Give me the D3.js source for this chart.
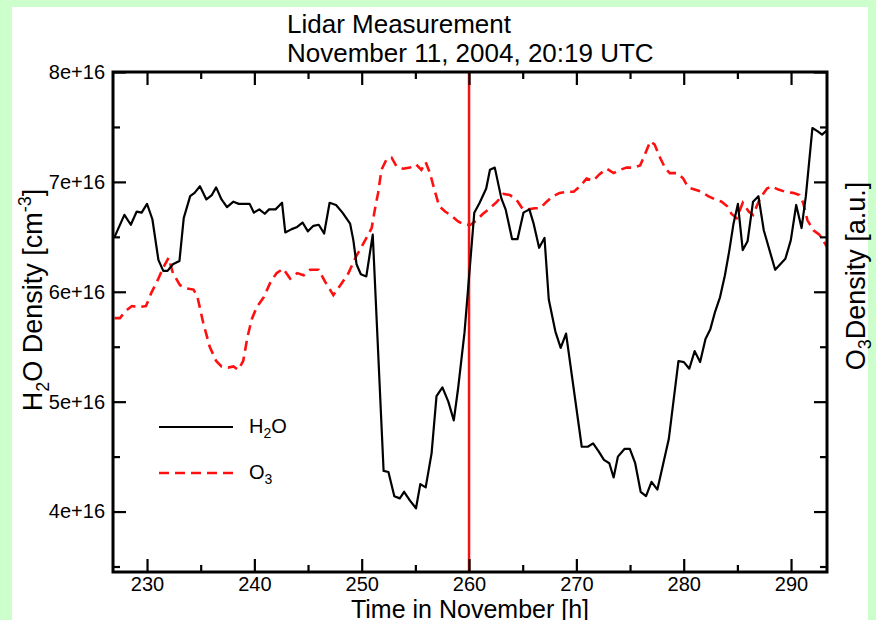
<!DOCTYPE html>
<html lang="en">
<head>
    <meta charset="UTF-8">
    <title>Lidar Measurement</title>
    <script src="https://d3js.org/d3.v7.min.js"></script>
    <style>
        body {
            margin: 0;
            background: #ccffcc;
        }
        svg text {
            font-family: "Liberation Sans", Arial, Helvetica, sans-serif;
            fill: #000;
        }
    </style>
</head>
<body>
    <div id="chart"></div>

    <script>
        // time in November [h]
        const h2oHours = [226.98, 227.89, 228.49, 229.04, 229.5, 230.0, 230.5, 231.06, 231.51, 231.91,
            232.41, 233.02, 233.42, 234.02, 234.43, 234.93, 235.53, 236.04, 236.44, 236.94,
            237.45, 238.05, 238.55, 239.56, 239.96, 240.46, 240.97, 241.37, 241.97, 242.58,
            242.88, 243.48, 243.99, 244.49, 244.99, 245.5, 246.0, 246.5, 247.01, 247.61,
            248.21, 248.92, 249.22, 249.52, 249.92, 250.43, 251.03, 252.04, 252.49, 253.04,
            253.55, 253.95, 254.5, 255.06, 255.46, 255.96, 256.51, 256.97, 257.52, 258.07,
            258.58, 258.98, 259.58, 260.49, 260.99, 261.6, 261.95, 262.4, 263.01, 263.41,
            264.01, 264.52, 265.07, 265.62, 266.02, 266.53, 267.03, 267.43, 268.04, 268.54,
            269.04, 270.5, 271.06, 271.56, 272.06, 272.57, 273.07, 273.47, 273.87, 274.48,
            274.98, 275.48, 275.99, 276.49, 277.0, 277.55, 278.61, 279.51, 280.02, 280.52,
            281.02, 281.53, 282.03, 282.48, 282.93, 283.38, 283.84, 284.24, 284.64, 285.05,
            285.5, 285.95, 286.46, 286.96, 287.46, 288.52, 289.47, 289.98, 290.48, 290.98,
            291.38, 291.99, 292.49, 292.89, 293.35];
        // H2O density in units of 1e16 cm^-3
        const h2oDensity = [6.50, 6.70, 6.61, 6.73, 6.72, 6.80, 6.66, 6.29, 6.19, 6.19,
            6.25, 6.28, 6.67, 6.87, 6.90, 6.96, 6.84, 6.88, 6.95, 6.84,
            6.77, 6.82, 6.80, 6.80, 6.72, 6.75, 6.71, 6.75, 6.75, 6.81,
            6.54, 6.57, 6.59, 6.63, 6.55, 6.60, 6.61, 6.53, 6.81, 6.79,
            6.72, 6.62, 6.47, 6.25, 6.16, 6.14, 6.52, 4.37, 4.36, 4.14,
            4.12, 4.18, 4.10, 4.03, 4.25, 4.22, 4.53, 5.05, 5.13, 5.00,
            4.83, 5.12, 5.63, 6.72, 6.81, 6.94, 7.11, 7.13, 6.85, 6.75,
            6.48, 6.48, 6.72, 6.75, 6.62, 6.40, 6.49, 5.93, 5.64, 5.49,
            5.62, 4.59, 4.59, 4.62, 4.55, 4.47, 4.44, 4.31, 4.50, 4.57,
            4.57, 4.44, 4.18, 4.14, 4.27, 4.20, 4.66, 5.37, 5.36, 5.30,
            5.46, 5.36, 5.57, 5.66, 5.82, 5.95, 6.15, 6.37, 6.62, 6.80,
            6.38, 6.46, 6.82, 6.87, 6.56, 6.20, 6.30, 6.47, 6.79, 6.58,
            6.87, 7.49, 7.46, 7.43, 7.47];

        const o3Hours = [226.98, 227.48, 227.95, 228.59, 229.2, 229.9, 230.4, 231.06, 231.51, 232.01,
            232.41, 233.07, 233.72, 234.33, 234.68, 235.23, 235.84, 236.44, 236.94, 237.55,
            238.05, 238.5, 238.96, 239.36, 239.76, 240.21, 240.87, 241.47, 242.07, 242.68,
            243.33, 243.99, 244.59, 245.19, 246.0, 246.6, 247.36, 248.01, 248.77, 249.42,
            250.33, 250.93, 251.23, 251.53, 251.84, 252.34, 252.79, 253.25, 253.85, 254.5,
            255.06, 255.56, 255.96, 256.36, 256.77, 257.22, 257.77, 258.38, 258.98, 259.58,
            260.14, 260.69, 261.3, 261.95, 262.61, 263.21, 263.81, 264.41, 265.02, 265.52,
            266.12, 266.63, 267.23, 267.84, 268.44, 269.09, 269.75, 270.35, 270.95, 271.56,
            272.16, 272.82, 273.47, 274.07, 274.68, 275.28, 275.94, 276.39, 276.89, 277.29,
            277.8, 278.3, 278.7, 279.41, 279.96, 280.41, 281.02, 281.67, 282.28, 282.93,
            283.53, 284.03, 284.44, 284.94, 285.5, 286.05, 286.46, 287.11, 287.76, 288.16,
            288.82, 289.47, 290.18, 290.78, 291.13, 291.53, 292.09, 292.64, 293.35];
        // O3 density [a.u.]
        const o3Density = [5.76, 5.76, 5.82, 5.87, 5.86, 5.87, 5.99, 6.12, 6.22, 6.31,
            6.17, 6.06, 6.03, 6.02, 5.96, 5.72, 5.50, 5.37, 5.32, 5.31,
            5.32, 5.29, 5.37, 5.59, 5.75, 5.86, 5.95, 6.08, 6.17, 6.21,
            6.12, 6.17, 6.15, 6.20, 6.20, 6.09, 5.97, 6.06, 6.17, 6.31,
            6.47, 6.58, 6.75, 6.90, 7.11, 7.21, 7.22, 7.14, 7.12, 7.13,
            7.16, 7.11, 7.18, 7.08, 6.93, 6.78, 6.73, 6.69, 6.64, 6.61,
            6.61, 6.65, 6.71, 6.76, 6.82, 6.89, 6.88, 6.84, 6.75, 6.75,
            6.76, 6.76, 6.82, 6.87, 6.90, 6.91, 6.91, 6.96, 7.03, 7.01,
            7.07, 7.12, 7.08, 7.11, 7.13, 7.13, 7.15, 7.25, 7.37, 7.34,
            7.22, 7.12, 7.08, 7.08, 7.03, 6.95, 6.93, 6.91, 6.87, 6.84,
            6.82, 6.78, 6.71, 6.67, 6.81, 6.73, 6.70, 6.85, 6.94, 6.96,
            6.93, 6.91, 6.90, 6.88, 6.81, 6.65, 6.56, 6.52, 6.41];

        const xTicks = [230, 240, 250, 260, 270, 280, 290];
        const xMinorTicks = [235, 245, 255, 265, 275, 285];
        const yTicks = [4, 5, 6, 7, 8];
        const yMinorTicks = [3.5, 4.5, 5.5, 6.5, 7.5];
        const markerHour = 260;

        const width = 876, height = 620;
        const plotLeft = 113, plotRight = 827, plotTop = 72, plotBottom = 572;

        const svg = d3.select("#chart").append("svg")
            .attr("width", width)
            .attr("height", height)
            .style("display", "block");

        svg.append("rect").attr("width", width).attr("height", height).attr("fill", "#ccffcc");
        svg.append("rect").attr("x", 12).attr("y", 7).attr("width", 856).attr("height", height - 7)
            .attr("fill", "#fff");

        const x = d3.scaleLinear().domain([226.83, 293.35]).range([plotLeft, plotRight]);
        const y = d3.scaleLinear().domain([3.45, 8.0]).range([plotBottom, plotTop]);
        const yO3 = d3.scaleLinear().domain([3.45, 8.0]).range([plotBottom, plotTop]);

        svg.append("clipPath").attr("id", "plot-clip")
            .append("rect").attr("x", plotLeft).attr("y", plotTop)
            .attr("width", plotRight - plotLeft).attr("height", plotBottom - plotTop);

        const plot = svg.append("g").attr("clip-path", "url(#plot-clip)");

        // vertical marker
        plot.append("line")
            .attr("x1", x(markerHour)).attr("x2", x(markerHour))
            .attr("y1", plotTop).attr("y2", plotBottom)
            .attr("stroke", "#f01414").attr("stroke-width", 2.5);

        const h2oLine = d3.line().x((d, i) => x(h2oHours[i])).y(d => y(d));
        const o3Line = d3.line().x((d, i) => x(o3Hours[i])).y(d => yO3(d));

        plot.append("path").datum(o3Density)
            .attr("d", o3Line)
            .attr("fill", "none")
            .attr("stroke", "#ff1010")
            .attr("stroke-width", 2.6)
            .attr("stroke-dasharray", "10,6");

        plot.append("path").datum(h2oDensity)
            .attr("d", h2oLine)
            .attr("fill", "none")
            .attr("stroke", "#000")
            .attr("stroke-width", 2.2)
            .attr("stroke-linejoin", "round");

        // axes, ticks point inward
        function styleAxis(g) {
            g.select(".domain").remove();
            g.selectAll(".tick line").attr("stroke", "#000").attr("stroke-width", 2.2);
            g.selectAll(".tick text")
                .style("font-family", '"Liberation Sans", Arial, sans-serif')
                .style("font-size", "20px")
                .attr("fill", "#000");
        }

        svg.append("g").attr("transform", `translate(0,${plotBottom})`)
            .call(d3.axisBottom(x).tickValues(xTicks).tickSize(-13).tickPadding(5).tickFormat(d3.format("d")))
            .call(styleAxis);
        svg.append("g").attr("transform", `translate(0,${plotBottom})`)
            .call(d3.axisBottom(x).tickValues(xMinorTicks).tickSize(-7).tickFormat(""))
            .call(styleAxis);
        svg.append("g").attr("transform", `translate(0,${plotTop})`)
            .call(d3.axisTop(x).tickValues(xTicks).tickSize(-13).tickFormat(""))
            .call(styleAxis);
        svg.append("g").attr("transform", `translate(0,${plotTop})`)
            .call(d3.axisTop(x).tickValues(xMinorTicks).tickSize(-7).tickFormat(""))
            .call(styleAxis);

        svg.append("g").attr("transform", `translate(${plotLeft},0)`)
            .call(d3.axisLeft(y).tickValues(yTicks).tickSize(-13).tickPadding(8).tickFormat(d => d + "e+16"))
            .call(styleAxis);
        svg.append("g").attr("transform", `translate(${plotLeft},0)`)
            .call(d3.axisLeft(y).tickValues(yMinorTicks).tickSize(-7).tickFormat(""))
            .call(styleAxis);
        svg.append("g").attr("transform", `translate(${plotRight},0)`)
            .call(d3.axisRight(yO3).tickValues(yTicks).tickSize(-13).tickFormat(""))
            .call(styleAxis);
        svg.append("g").attr("transform", `translate(${plotRight},0)`)
            .call(d3.axisRight(yO3).tickValues(yMinorTicks).tickSize(-7).tickFormat(""))
            .call(styleAxis);

        svg.append("rect")
            .attr("x", plotLeft).attr("y", plotTop)
            .attr("width", plotRight - plotLeft).attr("height", plotBottom - plotTop)
            .attr("fill", "none").attr("stroke", "#000").attr("stroke-width", 3);

        // titles
        svg.append("text").attr("x", 287).attr("y", 33)
            .style("font-size", "26px").text("Lidar Measurement");
        svg.append("text").attr("x", 287).attr("y", 62)
            .style("font-size", "26px").text("November 11, 2004, 20:19 UTC");

        svg.append("text")
            .attr("x", (plotLeft + plotRight) / 2).attr("y", 618)
            .attr("text-anchor", "middle")
            .style("font-size", "25px")
            .text("Time in November [h]");

        const yTitle = svg.append("text")
            .attr("transform", "translate(42,300) rotate(-90)")
            .attr("text-anchor", "middle")
            .style("font-size", "27px");
        yTitle.append("tspan").text("H");
        yTitle.append("tspan").attr("dy", 7).style("font-size", "18px").text("2");
        yTitle.append("tspan").attr("dy", -7).text("O Density [cm");
        yTitle.append("tspan").attr("dy", -11).style("font-size", "18px").text("-3");
        yTitle.append("tspan").attr("dy", 11).text("]");

        const o3Title = svg.append("text")
            .attr("transform", "translate(865,276) rotate(-90)")
            .attr("text-anchor", "middle")
            .style("font-size", "27px");
        o3Title.append("tspan").text("O");
        o3Title.append("tspan").attr("dy", 6).style("font-size", "18px").text("3");
        o3Title.append("tspan").attr("dy", -6).text("Density [a.u.]");

        // legend
        const legend = svg.append("g");
        legend.append("line").attr("x1", 159).attr("x2", 233).attr("y1", 427).attr("y2", 427)
            .attr("stroke", "#000").attr("stroke-width", 2.2);
        legend.append("line").attr("x1", 159).attr("x2", 233).attr("y1", 473).attr("y2", 473)
            .attr("stroke", "#ff1010").attr("stroke-width", 2.6).attr("stroke-dasharray", "10,6");

        const l1 = legend.append("text").attr("x", 249).attr("y", 433).style("font-size", "20px");
        l1.append("tspan").text("H");
        l1.append("tspan").attr("dy", 5).style("font-size", "14px").text("2");
        l1.append("tspan").attr("dy", -5).text("O");
        const l2 = legend.append("text").attr("x", 249).attr("y", 479).style("font-size", "20px");
        l2.append("tspan").text("O");
        l2.append("tspan").attr("dy", 5).style("font-size", "14px").text("3");
    </script>
</body>
</html>
